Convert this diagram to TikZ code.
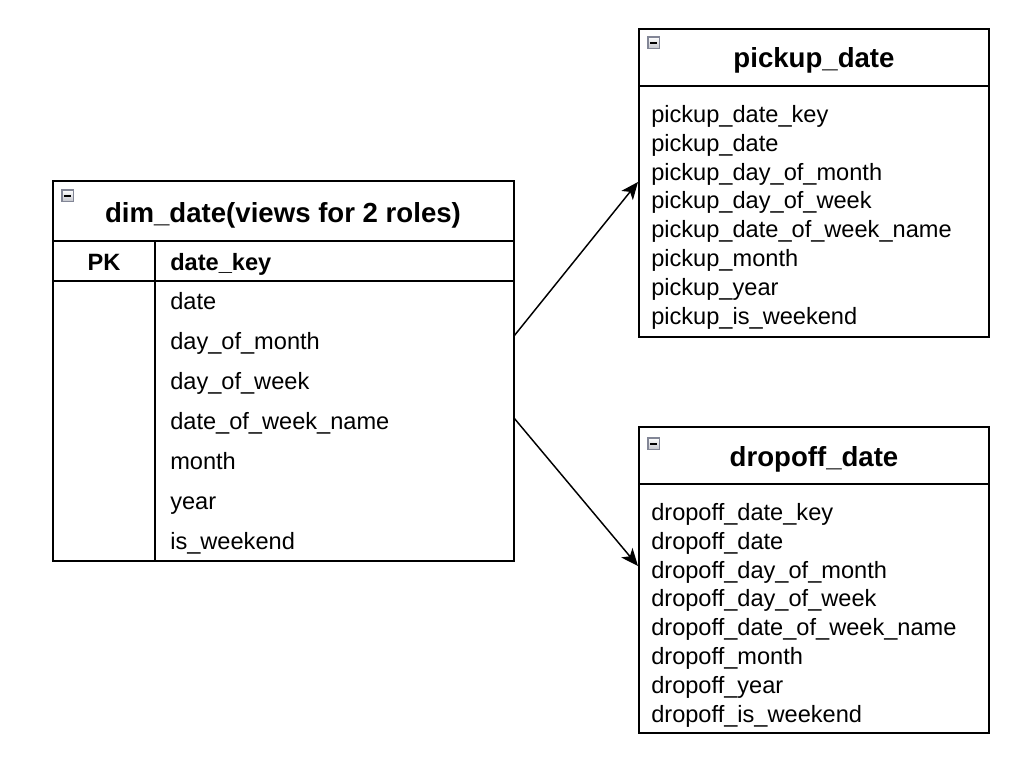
\documentclass[tikz,border=0pt]{standalone}
\usepackage{fontspec}
\setmainfont{Liberation Sans}
\usetikzlibrary{arrows.meta}
\begin{document}
\begin{tikzpicture}[x=0.75pt,y=-0.75pt,
  box/.style={draw=black, line width=1.1pt, fill=white, inner sep=0pt, outer sep=0pt, anchor=north west},
  titletext/.style={font=\fontsize{20.7pt}{24pt}\selectfont\bfseries, inner sep=0pt},
  field/.style={font=\fontsize{17.7pt}{21pt}\selectfont, inner sep=0pt, anchor=west, text height=0.72em, text depth=0.22em, yshift=-3.75pt},
  keyfield/.style={field, font=\fontsize{17.7pt}{21pt}\selectfont\bfseries},
  sep/.style={draw=black, line width=1.1pt},
  collapse/.style={draw={rgb,255:red,130;green,134;blue,150}, line width=0.8pt, top color=white, bottom color={rgb,255:red,195;green,197;blue,204}, minimum width=8.5pt, minimum height=8.5pt, inner sep=0pt, outer sep=0pt, anchor=north west},
  minusbar/.style={draw=black, line width=1.7pt},
  link/.style={draw=black, line width=1.1pt, -{Stealth[length=13pt, width=11pt, inset=3.5pt]}}
]
\useasboundingbox[fill=white] (0,0) rectangle (1028,764);

% ---------- dim_date ----------
\node[box, minimum width=345.75pt, minimum height=285pt] (dim) at (53,181) {};
\draw[sep] (53,241) -- (514,241);
\draw[sep] (53,281) -- (514,281);
\draw[sep] (155,241) -- (155,561);
\node[collapse] (icDim) at (62,190) {};
\draw[minusbar] ([xshift=-2.8pt]icDim.center) -- ([xshift=2.8pt]icDim.center);
\node[titletext] (dimTitle) at (283,215) {dim\_date(views for 2 roles)};
\node[keyfield, anchor=center] (pk) at (104,262) {PK};
\node[keyfield] (dk) at (170,262) {date\_key};
\foreach \t [count=\i from 0] in {date,day\_of\_month,day\_of\_week,date\_of\_week\_name,month,year,is\_weekend}{
  \node[field] (dimf\i) at (170,{301+40*\i}) {\t};
}

% ---------- pickup_date ----------
\node[box, minimum width=262.5pt, minimum height=231pt] (pick) at (639,29) {};
\draw[sep] (639,86) -- (989,86);
\node[collapse] (icPick) at (648,37) {};
\draw[minusbar] ([xshift=-2.8pt]icPick.center) -- ([xshift=2.8pt]icPick.center);
\node[titletext] (pickTitle) at (814,60) {pickup\_date};
\foreach \t [count=\i from 0] in {pickup\_date\_key,pickup\_date,pickup\_day\_of\_month,pickup\_day\_of\_week,pickup\_date\_of\_week\_name,pickup\_month,pickup\_year,pickup\_is\_weekend}{
  \node[field] (pickf\i) at (651,{114+28.86*\i}) {\t};
}

% ---------- dropoff_date ----------
\node[box, minimum width=262.5pt, minimum height=229.5pt] (drop) at (639,427) {};
\draw[sep] (639,484) -- (989,484);
\node[collapse] (icDrop) at (648,438) {};
\draw[minusbar] ([xshift=-2.8pt]icDrop.center) -- ([xshift=2.8pt]icDrop.center);
\node[titletext] (dropTitle) at (814,459) {dropoff\_date};
\foreach \t [count=\i from 0] in {dropoff\_date\_key,dropoff\_date,dropoff\_day\_of\_month,dropoff\_day\_of\_week,dropoff\_date\_of\_week\_name,dropoff\_month,dropoff\_year,dropoff\_is\_weekend}{
  \node[field] (dropf\i) at (651,{512+28.86*\i}) {\t};
}

% ---------- connectors ----------
\coordinate (outPick) at (514,336);
\coordinate (outDrop) at (514,418);
\coordinate (inPick) at (638,182);
\coordinate (inDrop) at (638,566);
\draw[link] (outPick) -- (inPick);
\draw[link] (outDrop) -- (inDrop);
\end{tikzpicture}
\end{document}
